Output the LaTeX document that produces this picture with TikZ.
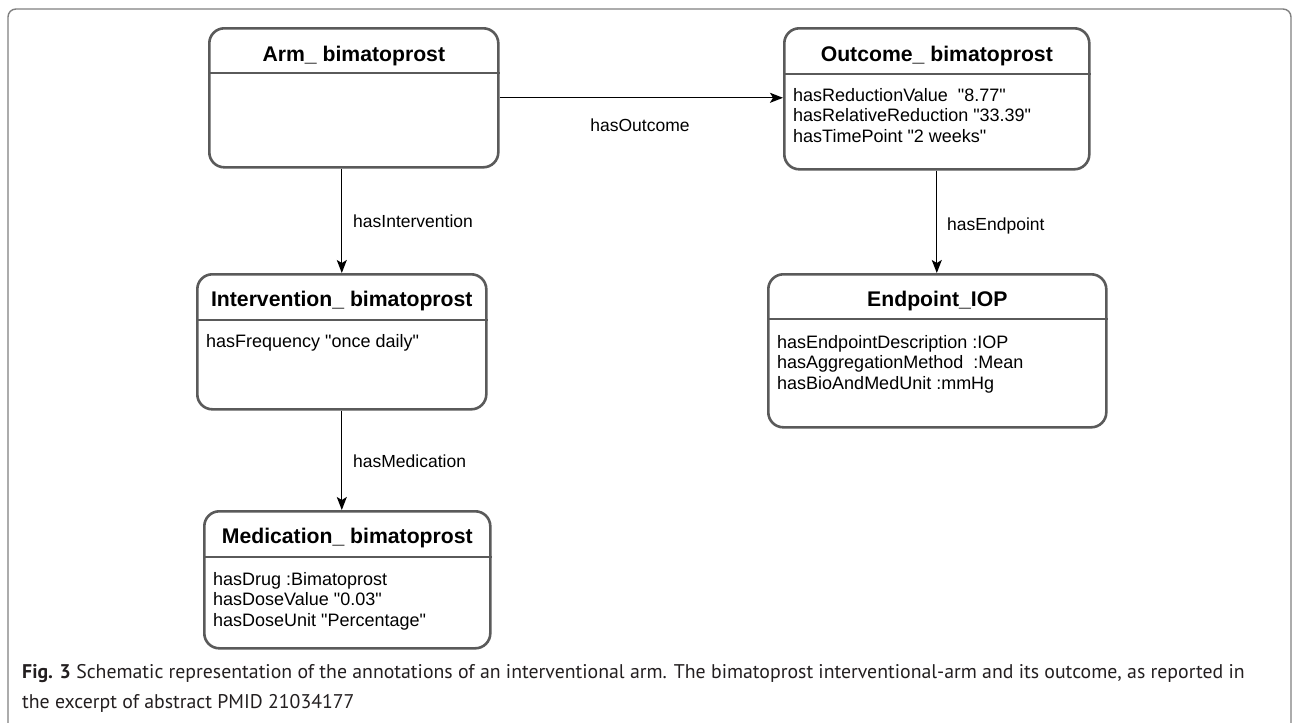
\documentclass[tikz,border=0pt]{standalone}
\usepackage{fontspec}
\newfontfamily\arialfont{Liberation Sans}
\newfontfamily\capfont{PT Sans}
\usetikzlibrary{arrows.meta,calc}
\definecolor{boxgray}{HTML}{5A5A5A}
\definecolor{framegray}{HTML}{808080}
\definecolor{captext}{HTML}{231F20}
\tikzset{
  umlbox/.style={draw=boxgray, line width=2.6pt, rounded corners=15pt, anchor=north west, inner sep=0pt, fill=white},
  divider/.style={draw=boxgray, line width=2.6pt},
  title/.style={font=\arialfont\fontsize{21.2}{24}\selectfont\bfseries, anchor=base, inner sep=0pt},
  attrs/.style={font=\arialfont\fontsize{18}{20.7}\selectfont, anchor=north west, align=left, inner sep=0pt},
  rel/.style={draw=black, line width=1.3pt, -{Stealth[length=13pt, width=10pt, inset=3pt]}},
  rellabel/.style={font=\arialfont\fontsize{17.5}{20}\selectfont, inner sep=0pt},
  frame/.style={draw=framegray, line width=1.4pt, rounded corners=8pt},
  captxt/.style={font=\capfont\fontsize{19.8}{30}\selectfont, text=captext, anchor=base west, inner sep=0pt}
}
\begin{document}
\begin{tikzpicture}[x=1pt,y=-1pt]
\useasboundingbox (0,0) rectangle (1294,723);
\clip (0,0) rectangle (1294,723);
\fill[white] (0,0) rectangle (1294,723);
% outer frame
\draw[frame] (8,760) -- (8,9) -- (1291,9) -- (1291,760);

% boxes
\node[umlbox, minimum width=289pt, minimum height=139pt] (arm) at (208,27) {};
\node[umlbox, minimum width=305pt, minimum height=141pt] (out) at (783,27) {};
\node[umlbox, minimum width=289pt, minimum height=135pt] (int) at (196,273) {};
\node[umlbox, minimum width=338pt, minimum height=153pt] (ep) at (767,273) {};
\node[umlbox, minimum width=286pt, minimum height=137pt] (med) at (203,510) {};

% dividers
\draw[divider] (arm.west |- 0,73) -- (arm.east |- 0,73);
\draw[divider] (out.west |- 0,74) -- (out.east |- 0,74);
\draw[divider] (int.west |- 0,320) -- (int.east |- 0,320);
\draw[divider] (ep.west |- 0,319) -- (ep.east |- 0,319);
\draw[divider] (med.west |- 0,557) -- (med.east |- 0,557);

% titles
\node[title] (armT) at (arm.north |- 0,61) {Arm\_ bimatoprost};
\node[title] (outT) at (out.north |- 0,61) {Outcome\_ bimatoprost};
\node[title] (intT) at (int.north |- 0,306) {Intervention\_ bimatoprost};
\node[title] (epT) at (ep.north |- 0,306) {Endpoint\_IOP};
\node[title] (medT) at (med.north |- 0,543) {Medication\_ bimatoprost};

% attributes
\node[attrs] (outA) at (793,88) {hasReductionValue~~"8.77"\\hasRelativeReduction "33.39"\\hasTimePoint "2 weeks"};
\node[attrs] (intA) at (206,334) {hasFrequency "once daily"};
\node[attrs] (epA) at (777,335) {hasEndpointDescription :IOP\\hasAggregationMethod~~:Mean\\hasBioAndMedUnit :mmHg};
\node[attrs] (medA) at (213,572) {hasDrug :Bimatoprost\\hasDoseValue "0.03"\\hasDoseUnit "Percentage"};

% relations
\draw[rel] (arm.east) -- (arm.east -| out.west);
\draw[rel] (int.north |- arm.south) -- (int.north);
\draw[rel] (out.south) -- (out.south |- ep.north);
\draw[rel] (int.south) -- (int.south |- med.north);

% relation labels
\node[rellabel] (lOut) at (640,125) {hasOutcome};
\node[rellabel, anchor=base west] (lInt) at (353,227) {hasIntervention};
\node[rellabel, anchor=base west] (lEp) at (947,230) {hasEndpoint};
\node[rellabel, anchor=base west] (lMed) at (353,467) {hasMedication};

% caption
\node[captxt] (cap1) at (22,678) {\textbf{Fig. 3} Schematic representation of the annotations of an interventional arm. The bimatoprost interventional-arm and its outcome, as reported in};
\node[captxt] (cap2) at (22,708) {the excerpt of abstract PMID 21034177};
\end{tikzpicture}
\end{document}
